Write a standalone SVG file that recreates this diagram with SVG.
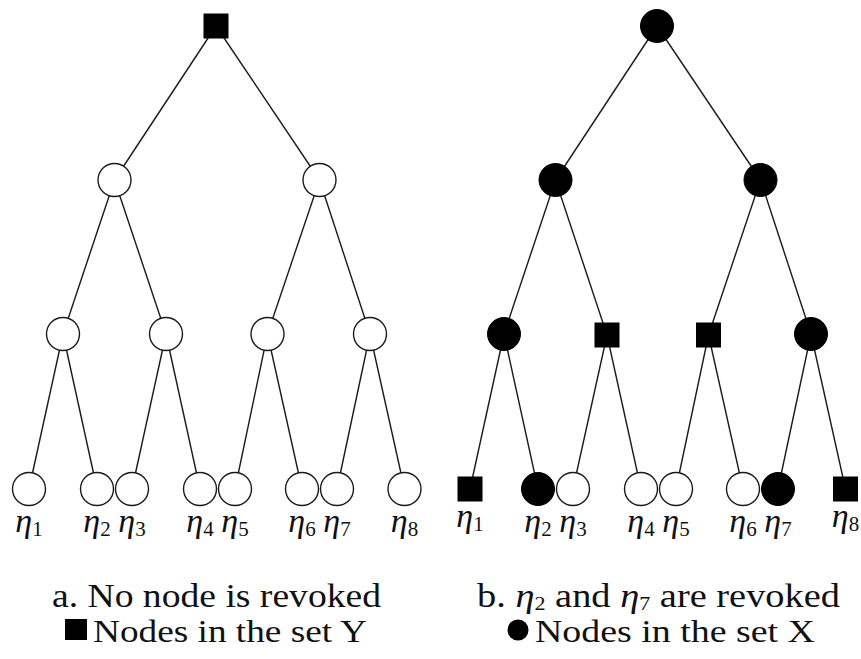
<svg xmlns="http://www.w3.org/2000/svg" width="861" height="659" viewBox="0 0 861 659">
  <style>
    .edge { stroke: #1a1a1a; stroke-width: 1.4; fill: none; }
    .open { fill: #ffffff; stroke: #1a1a1a; stroke-width: 1.4; }
    .full { fill: #000000; stroke: #000000; stroke-width: 1; }
    .lbl { font-family: "Liberation Serif", "DejaVu Serif", serif; font-size: 34px; fill: #111; }
    .lbl .eta { font-style: italic; }
    .lbl .sub { font-size: 21px; }
    .cap { font-family: "Liberation Serif", "DejaVu Serif", serif; font-size: 33px; fill: #111; }
    .cap2 { font-family: "Liberation Serif", "DejaVu Serif", serif; font-size: 31px; fill: #111; }
  </style>
  <defs>
    <circle id="ring" r="16.5"/>
    <rect id="box" x="-12" y="-12" width="24" height="24"/>
  </defs>

  <rect width="861" height="659" fill="#ffffff"/>

  <!-- edges, drawn centre to centre beneath the nodes -->
  <g id="connectors" class="edge">
    <!-- tree a -->
    <line x1="216" y1="26" x2="114.5" y2="180"/>
    <line x1="216" y1="26" x2="319.5" y2="180"/>
    <line x1="114.5" y1="180" x2="63" y2="334"/>
    <line x1="114.5" y1="180" x2="166" y2="334"/>
    <line x1="319.5" y1="180" x2="267.5" y2="334"/>
    <line x1="319.5" y1="180" x2="370" y2="334"/>
    <line x1="63" y1="334" x2="29" y2="489"/>
    <line x1="63" y1="334" x2="97" y2="489"/>
    <line x1="166" y1="334" x2="132" y2="489"/>
    <line x1="166" y1="334" x2="200" y2="489"/>
    <line x1="267.5" y1="334" x2="235" y2="489"/>
    <line x1="267.5" y1="334" x2="302" y2="489"/>
    <line x1="370" y1="334" x2="337" y2="489"/>
    <line x1="370" y1="334" x2="404.5" y2="489"/>
    <!-- tree b -->
    <line x1="657" y1="26" x2="555.5" y2="180"/>
    <line x1="657" y1="26" x2="760.5" y2="180"/>
    <line x1="555.5" y1="180" x2="504" y2="334"/>
    <line x1="555.5" y1="180" x2="607" y2="335"/>
    <line x1="760.5" y1="180" x2="708.5" y2="335"/>
    <line x1="760.5" y1="180" x2="811" y2="334"/>
    <line x1="504" y1="334" x2="470" y2="489"/>
    <line x1="504" y1="334" x2="538" y2="489"/>
    <line x1="607" y1="335" x2="573" y2="489"/>
    <line x1="607" y1="335" x2="641" y2="489"/>
    <line x1="708.5" y1="335" x2="676" y2="489"/>
    <line x1="708.5" y1="335" x2="743" y2="489"/>
    <line x1="811" y1="334" x2="778" y2="489"/>
    <line x1="811" y1="334" x2="845.5" y2="489"/>
  </g>

  <!-- tree a: no node revoked -->
  <g id="a-root"><use href="#box" class="full" x="216" y="26"/></g>
  <g id="a-n1"><use href="#ring" class="open" x="114.5" y="180"/></g>
  <g id="a-n2"><use href="#ring" class="open" x="319.5" y="180"/></g>
  <g id="a-n3"><use href="#ring" class="open" x="63" y="334"/></g>
  <g id="a-n4"><use href="#ring" class="open" x="166" y="334"/></g>
  <g id="a-n5"><use href="#ring" class="open" x="267.5" y="334"/></g>
  <g id="a-n6"><use href="#ring" class="open" x="370" y="334"/></g>
  <g id="a-eta1"><use href="#ring" class="open" x="29" y="489"/>
    <text class="lbl" x="29" y="532" text-anchor="middle"><tspan class="eta">η</tspan><tspan class="sub" dy="4">1</tspan></text></g>
  <g id="a-eta2"><use href="#ring" class="open" x="97" y="489"/>
    <text class="lbl" x="97" y="532" text-anchor="middle"><tspan class="eta">η</tspan><tspan class="sub" dy="4">2</tspan></text></g>
  <g id="a-eta3"><use href="#ring" class="open" x="132" y="489"/>
    <text class="lbl" x="132" y="532" text-anchor="middle"><tspan class="eta">η</tspan><tspan class="sub" dy="4">3</tspan></text></g>
  <g id="a-eta4"><use href="#ring" class="open" x="200" y="489"/>
    <text class="lbl" x="200" y="532" text-anchor="middle"><tspan class="eta">η</tspan><tspan class="sub" dy="4">4</tspan></text></g>
  <g id="a-eta5"><use href="#ring" class="open" x="235" y="489"/>
    <text class="lbl" x="235" y="532" text-anchor="middle"><tspan class="eta">η</tspan><tspan class="sub" dy="4">5</tspan></text></g>
  <g id="a-eta6"><use href="#ring" class="open" x="302" y="489"/>
    <text class="lbl" x="302" y="532" text-anchor="middle"><tspan class="eta">η</tspan><tspan class="sub" dy="4">6</tspan></text></g>
  <g id="a-eta7"><use href="#ring" class="open" x="337" y="489"/>
    <text class="lbl" x="337" y="532" text-anchor="middle"><tspan class="eta">η</tspan><tspan class="sub" dy="4">7</tspan></text></g>
  <g id="a-eta8"><use href="#ring" class="open" x="404.5" y="489"/>
    <text class="lbl" x="404.5" y="532" text-anchor="middle"><tspan class="eta">η</tspan><tspan class="sub" dy="4">8</tspan></text></g>

  <!-- tree b: η2 and η7 revoked -->
  <g id="b-root"><use href="#ring" class="full" x="657" y="26"/></g>
  <g id="b-n1"><use href="#ring" class="full" x="555.5" y="180"/></g>
  <g id="b-n2"><use href="#ring" class="full" x="760.5" y="180"/></g>
  <g id="b-n3"><use href="#ring" class="full" x="504" y="334"/></g>
  <g id="b-n4"><use href="#box" class="full" x="607" y="335"/></g>
  <g id="b-n5"><use href="#box" class="full" x="708.5" y="335"/></g>
  <g id="b-n6"><use href="#ring" class="full" x="811" y="334"/></g>
  <g id="b-eta1"><use href="#box" class="full" x="470" y="489"/>
    <text class="lbl" x="470" y="527" text-anchor="middle"><tspan class="eta">η</tspan><tspan class="sub" dy="4">1</tspan></text></g>
  <g id="b-eta2"><use href="#ring" class="full" x="538" y="489"/>
    <text class="lbl" x="538" y="532" text-anchor="middle"><tspan class="eta">η</tspan><tspan class="sub" dy="4">2</tspan></text></g>
  <g id="b-eta3"><use href="#ring" class="open" x="573" y="489"/>
    <text class="lbl" x="573" y="532" text-anchor="middle"><tspan class="eta">η</tspan><tspan class="sub" dy="4">3</tspan></text></g>
  <g id="b-eta4"><use href="#ring" class="open" x="641" y="489"/>
    <text class="lbl" x="641" y="532" text-anchor="middle"><tspan class="eta">η</tspan><tspan class="sub" dy="4">4</tspan></text></g>
  <g id="b-eta5"><use href="#ring" class="open" x="676" y="489"/>
    <text class="lbl" x="676" y="532" text-anchor="middle"><tspan class="eta">η</tspan><tspan class="sub" dy="4">5</tspan></text></g>
  <g id="b-eta6"><use href="#ring" class="open" x="743" y="489"/>
    <text class="lbl" x="743" y="532" text-anchor="middle"><tspan class="eta">η</tspan><tspan class="sub" dy="4">6</tspan></text></g>
  <g id="b-eta7"><use href="#ring" class="full" x="778" y="489"/>
    <text class="lbl" x="778" y="532" text-anchor="middle"><tspan class="eta">η</tspan><tspan class="sub" dy="4">7</tspan></text></g>
  <g id="b-eta8"><use href="#box" class="full" x="845.5" y="489"/>
    <text class="lbl" x="845.5" y="527" text-anchor="middle"><tspan class="eta">η</tspan><tspan class="sub" dy="4">8</tspan></text></g>

  <!-- captions and legend -->
  <g id="caption-a">
    <text class="cap" x="52" y="607" textLength="329" lengthAdjust="spacingAndGlyphs">a. No node is revoked</text>
    <rect x="65" y="619" width="22" height="21" fill="#000"/>
    <text class="cap2" x="93" y="642" textLength="274" lengthAdjust="spacingAndGlyphs">Nodes in the set Y</text>
  </g>
  <g id="caption-b">
    <text class="cap" x="477" y="607" textLength="363" lengthAdjust="spacingAndGlyphs">b. <tspan font-style="italic">η</tspan><tspan font-size="19" dy="3">2</tspan><tspan dy="-3"> and </tspan><tspan font-style="italic">η</tspan><tspan font-size="19" dy="3">7</tspan><tspan dy="-3"> are revoked</tspan></text>
    <circle cx="518" cy="630" r="10.5" fill="#000"/>
    <text class="cap2" x="535" y="642" textLength="280" lengthAdjust="spacingAndGlyphs">Nodes in the set X</text>
  </g>
</svg>
